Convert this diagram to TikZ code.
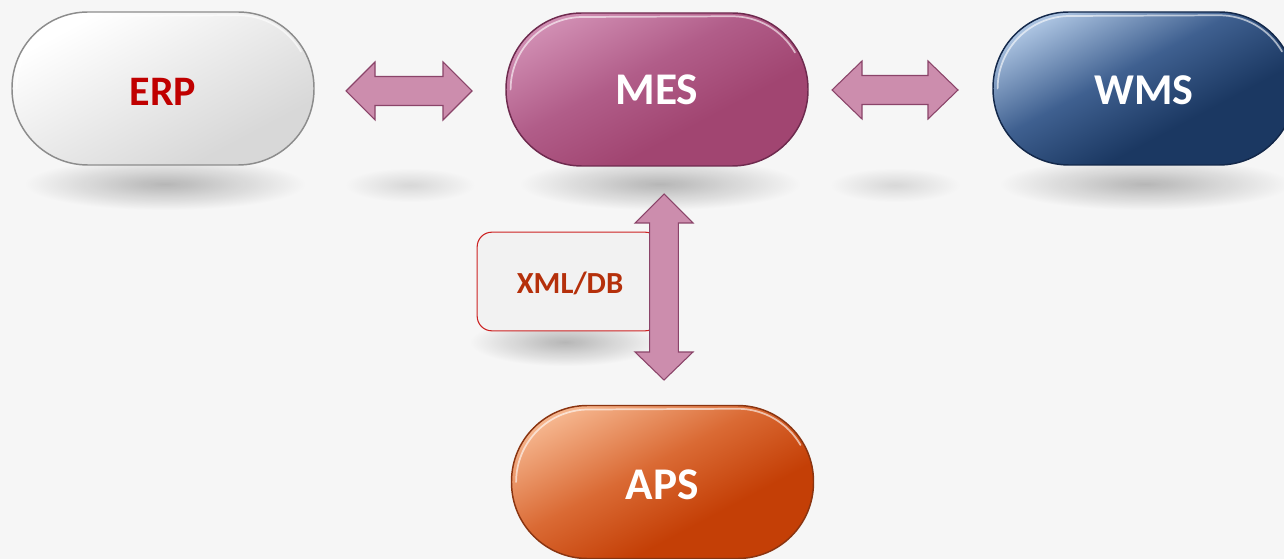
\documentclass[tikz,border=0pt]{standalone}
\usepackage{fontspec}
\setmainfont{Carlito}
\usetikzlibrary{fadings}
\definecolor{bg}{HTML}{F6F6F6}
\definecolor{erpA}{HTML}{FFFFFF}
\definecolor{erpB}{HTML}{EEEEEE}
\definecolor{erpC}{HTML}{D8D8D8}
\definecolor{erpLine}{HTML}{8C8C8C}
\definecolor{erpText}{HTML}{C00000}
\definecolor{mesA}{HTML}{D08DB2}
\definecolor{mesB}{HTML}{B15D89}
\definecolor{mesC}{HTML}{A14571}
\definecolor{mesLine}{HTML}{6E2A4E}
\definecolor{wmsA}{HTML}{AAC2E0}
\definecolor{wmsB}{HTML}{3F6090}
\definecolor{wmsC}{HTML}{1B3862}
\definecolor{wmsLine}{HTML}{13284A}
\definecolor{apsA}{HTML}{F5B48C}
\definecolor{apsB}{HTML}{DA6A34}
\definecolor{apsC}{HTML}{C43F06}
\definecolor{apsLine}{HTML}{8A3410}
\definecolor{arrFill}{HTML}{CC8DAD}
\definecolor{arrLine}{HTML}{8A4469}
\definecolor{boxLine}{HTML}{CC2222}
\definecolor{boxFill}{HTML}{F2F2F2}
\definecolor{boxText}{HTML}{B5300B}
\pgfdeclareverticalshading{erpshade}{100bp}{color(0bp)=(erpC); color(30bp)=(erpC); color(55bp)=(erpB); color(74bp)=(erpA); color(100bp)=(erpA)}
\pgfdeclareverticalshading{messhade}{100bp}{color(0bp)=(mesC); color(38bp)=(mesC); color(56bp)=(mesB); color(76bp)=(mesA); color(100bp)=(mesA)}
\pgfdeclareverticalshading{wmsshade}{100bp}{color(0bp)=(wmsC); color(38bp)=(wmsC); color(56bp)=(wmsB); color(76bp)=(wmsA); color(100bp)=(wmsA)}
\pgfdeclareverticalshading{apsshade}{100bp}{color(0bp)=(apsC); color(37bp)=(apsC); color(55bp)=(apsB); color(76bp)=(apsA); color(100bp)=(apsA)}
\tikzfading[name=softblob, inner color=transparent!0, outer color=transparent!100]
\begin{document}
\begin{tikzpicture}[x=0.75pt,y=-0.75pt,
  pill/.style={rounded corners=57pt, minimum width=226.5pt, minimum height=114.75pt,
    line width=1.1pt, inner sep=0pt, text depth=0pt, shade, shading=#1, shading angle=28},
  pilltext/.style={font=\bfseries\fontsize{#1}{#1}\selectfont},
  shadowblob/.style={fill=black, opacity=#1, path fading=softblob},
  blockarrow/.style={fill=arrFill, draw=arrLine, line width=0.8pt, line join=miter},
  xmlbox/.style={draw=boxLine, fill=boxFill, line width=0.8pt, rounded corners=11pt,
    minimum width=137pt, minimum height=74pt, inner sep=0pt},
  highlight/.style={draw=white, line width=1.3pt, opacity=0.6, line cap=round}
]
% canvas
\fill[bg] (0,0) rectangle (1284,559);
\clip (0,0) rectangle (1284,559);
\useasboundingbox (0,0) rectangle (1284,559);

% soft shadows
\fill[shadowblob=0.26] (25,158) rectangle (305,210);
\fill[shadowblob=0.26] (520,158) rectangle (800,210);
\fill[shadowblob=0.26] (1000,158) rectangle (1290,210);
\fill[shadowblob=0.12] (345,168) rectangle (475,202);
\fill[shadowblob=0.12] (830,168) rectangle (960,202);
\fill[shadowblob=0.26] (470,318) rectangle (660,366);

% pills
\node[pill=erpshade, draw=erpLine, text=erpText, pilltext=31.5, text height=25.5pt]
  (erp) at (163,88.5) {ERP};
\node[pill=messhade, draw=mesLine, text=white, pilltext=34, text height=22.8pt]
  (mes) at (657,89.5) {MES};
\node[pill=wmsshade, draw=wmsLine, text=white, pilltext=33, text height=24.3pt]
  (wms) at (1144,88.5) {WMS};
\node[pill=apsshade, draw=apsLine, text=white, pilltext=34, text height=26.4pt]
  (aps) at (662.5,482) {APS};

% bevel highlights along the top edge
\foreach \n in {erp,mes,wms,aps}{
  \draw[highlight] ([xshift=4]\n.west) arc (180:270:72.5)
    -- ([shift={(-76.5,4)}]\n.north east) arc (270:330:72.5);
}

% XML/DB label box
\node[xmlbox] (xml) at (568.5,281.5) {};
\node[text=boxText, font=\bfseries\fontsize{23}{23}\selectfont] (xmltext) at (570,283) {XML/DB};

% double block arrows
\coordinate (a1) at (409,91);
\coordinate (a2) at (895,90);
\coordinate (a3) at (664,287);
\draw[blockarrow] ([shift={(-63,0)}]a1) -- ([shift={(-34,-29)}]a1) -- ([shift={(-34,-14.5)}]a1)
  -- ([shift={(34,-14.5)}]a1) -- ([shift={(34,-29)}]a1) -- ([shift={(63,0)}]a1)
  -- ([shift={(34,29)}]a1) -- ([shift={(34,14.5)}]a1) -- ([shift={(-34,14.5)}]a1)
  -- ([shift={(-34,29)}]a1) -- cycle;
\draw[blockarrow] ([shift={(-63,0)}]a2) -- ([shift={(-33,-29)}]a2) -- ([shift={(-33,-14.5)}]a2)
  -- ([shift={(33,-14.5)}]a2) -- ([shift={(33,-29)}]a2) -- ([shift={(63,0)}]a2)
  -- ([shift={(33,29)}]a2) -- ([shift={(33,14.5)}]a2) -- ([shift={(-33,14.5)}]a2)
  -- ([shift={(-33,29)}]a2) -- cycle;
\draw[blockarrow] ([shift={(0,-93)}]a3) -- ([shift={(29,-64)}]a3) -- ([shift={(14.3,-64)}]a3)
  -- ([shift={(14.3,65)}]a3) -- ([shift={(29,65)}]a3) -- ([shift={(0,93)}]a3)
  -- ([shift={(-29,65)}]a3) -- ([shift={(-14.3,65)}]a3) -- ([shift={(-14.3,-64)}]a3)
  -- ([shift={(-29,-64)}]a3) -- cycle;
\end{tikzpicture}
\end{document}
